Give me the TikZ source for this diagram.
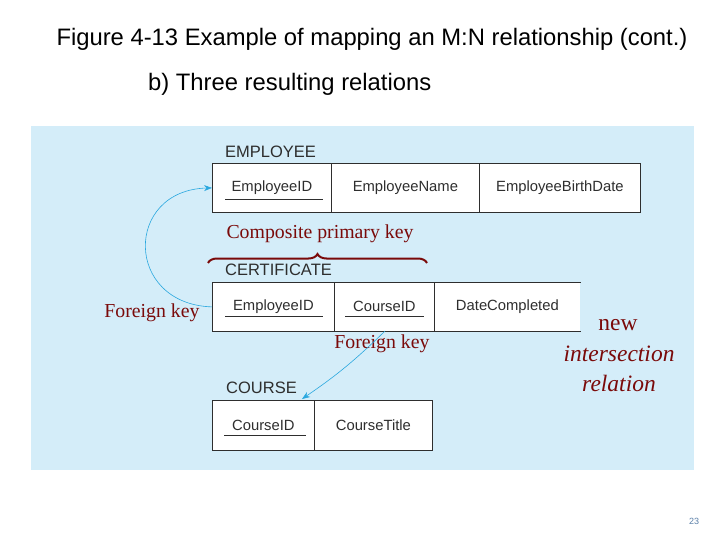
\documentclass[tikz,border=0pt]{standalone}
\usepackage{fontspec}
\setmainfont{Liberation Serif}
\setsansfont{Liberation Sans}
\usetikzlibrary{arrows.meta,calc,decorations.pathreplacing}
\definecolor{bgblue}{HTML}{D4EDF9}
\definecolor{darkred}{HTML}{7A0A0A}
\definecolor{arrowblue}{HTML}{2AA8DF}
\definecolor{tabtext}{HTML}{2E2E2E}
\definecolor{pagenum}{HTML}{5A7FA8}
\begin{document}
\begin{tikzpicture}[x=1pt,y=-1pt,
  cell/.style={draw=tabtext,line width=0.8pt,fill=white,minimum height=49pt,inner sep=0pt,anchor=north west,
    font=\sffamily\fontsize{14.8}{17}\selectfont,text=tabtext},
  nocell/.style={cell,draw=none},
  tlabel/.style={anchor=west,inner sep=0pt,font=\sffamily\fontsize{16.5}{19}\selectfont,text=tabtext},
  note/.style={inner sep=0pt,text=darkred,font=\rmfamily\fontsize{19.8}{23}\selectfont},
  big/.style={inner sep=0pt,text=darkred,font=\rmfamily\fontsize{23.5}{27}\selectfont},
  keyline/.style={draw=tabtext,line width=0.8pt},
  fk/.style={draw=arrowblue,line width=0.6pt,-{Stealth[length=8pt,width=6pt]}}]
\useasboundingbox (0,0) rectangle (720,540);
\fill[bgblue] (31,126) rectangle (694,470);

\node[inner sep=0pt,font=\sffamily\fontsize{23.8}{28}\selectfont] (title) at (372,39) {Figure 4-13 Example of mapping an M:N relationship (cont.)};
\node[inner sep=0pt,anchor=west,font=\sffamily\fontsize{23.8}{28}\selectfont] (sub) at (148,84) {b) Three resulting relations};

% EMPLOYEE
\node[tlabel] (empl) at (225,152) {EMPLOYEE};
\node[cell,minimum width=119pt] (e1) at (212,163) {EmployeeID};
\node[cell,minimum width=148pt] (e2) at (331,163) {EmployeeName};
\node[cell,minimum width=161pt] (e3) at (479,163) {EmployeeBirthDate};
\draw[keyline] ($(e1.south west)+(13,-13)$) -- ($(e1.south east)+(-9,-13)$);

% CERTIFICATE
\node[tlabel] (certl) at (225,270) {CERTIFICATE};
\node[cell,minimum width=122pt] (c1) at (212,282) {EmployeeID};
\node[cell,minimum width=100pt] (c2) at (334,282) {CourseID};
\node[nocell,minimum width=146pt] (c3) at (434,282) {DateCompleted};
\draw[keyline] (c3.north east) -- (c3.north west) -- (c3.south west) -- (c3.south east);
\draw[keyline] ($(c1.south west)+(13,-15)$) -- ($(c1.south east)+(-12,-15)$);
\draw[keyline] ($(c2.south west)+(11,-15)$) -- ($(c2.south east)+(-11,-15)$);

% COURSE
\node[tlabel] (coursel) at (226,388) {COURSE};
\node[cell,minimum width=102pt,minimum height=50pt] (k1) at (212,400) {CourseID};
\node[cell,minimum width=118pt,minimum height=50pt] (k2) at (314,400) {CourseTitle};
\draw[keyline] ($(k1.south west)+(12,-15)$) -- ($(k1.south east)+(-9,-15)$);

% brace and notes
\node[note] (cpk) at (320,234) {Composite primary key};
\coordinate (bl) at (208,263);
\coordinate (br) at (427,263);
\draw[darkred,line width=2pt,decoration={brace,amplitude=9pt,aspect=0.5}, decorate] (bl) -- (br);
\node[note] (fk1) at (152,313) {Foreign key};
\node[note] (fk2) at (382,344) {Foreign key};
\node[big] (n1) at (618,325) {new};
\node[big] (n2) at (619,354) {\itshape intersection};
\node[big] (n3) at (619,383) {\itshape relation};

% connectors
\draw[fk] (c1.west) .. controls (124,304) and (124,190) .. (e1.west);
\coordinate (fkstart) at (385,331);
\coordinate (fkend) at (302,399);
\draw[fk] (fkstart) to[bend left=5] (fkend);

\node[inner sep=0pt,text=pagenum,font=\sffamily\fontsize{9}{11}\selectfont] (pg) at (694,521) {23};
\end{tikzpicture}
\end{document}
